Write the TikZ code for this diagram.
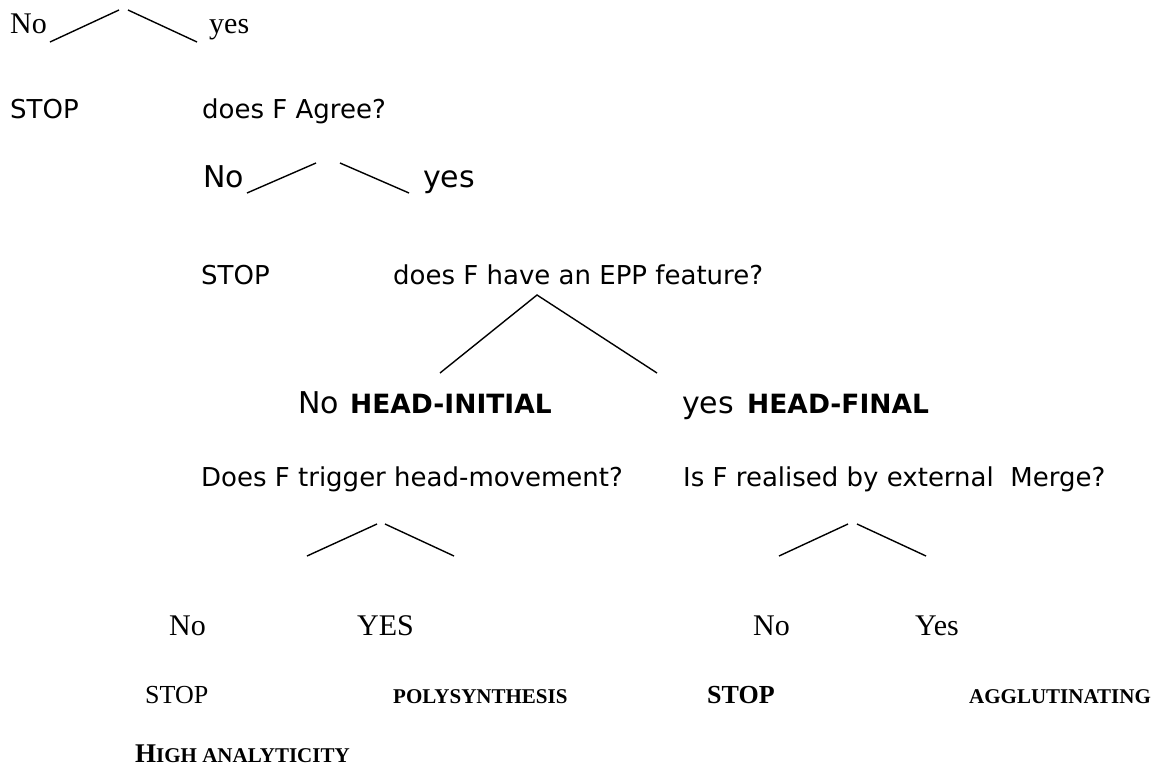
\documentclass[tikz,border=0pt]{standalone}
\usepackage{fontspec}
\setmainfont{Liberation Serif}
\newfontfamily\vsans{DejaVu Sans}
\usetikzlibrary{positioning}
\pgfdeclarelayer{edgelayer}
\pgfdeclarelayer{nodelayer}
\pgfsetlayers{edgelayer,nodelayer,main}
\tikzstyle{answer}=[anchor=base west,inner sep=0pt,font=\fontsize{30}{36}\selectfont]
\tikzstyle{halt}=[anchor=base west,inner sep=0pt,font=\fontsize{26}{31}\selectfont]
\tikzstyle{question}=[anchor=base west,inner sep=0pt,font=\vsans\fontsize{26}{31}\selectfont]
\tikzstyle{reply}=[anchor=base west,inner sep=0pt,font=\vsans\fontsize{30}{36}\selectfont]
\tikzstyle{param}=[anchor=base west,inner sep=0pt,font=\vsans\bfseries\fontsize{26.5}{32}\selectfont]
\tikzstyle{outcome}=[anchor=base west,inner sep=0pt,font=\bfseries\fontsize{21}{25}\selectfont]
\tikzstyle{branch}=[line width=1.4pt]

\begin{document}
\begin{tikzpicture}[x=1pt,y=-1pt]
	\useasboundingbox (0,0) rectangle (1161,766);
	\begin{pgfonlayer}{nodelayer}
		\node [style=answer] (No1) at (10,33) {No};
		\node [style=answer] (Yes1) at (209,33) {yes};
		\node [style=question] (Stop1) at (10,118) {STOP};
		\node [style=question] (Agree) at (202,118) {does F Agree?};
		\node [style=reply] (No2) at (203,187) {No};
		\node [style=reply] (Yes2) at (423,187) {yes};
		\node [style=question] (Stop2) at (201,284) {STOP};
		\node [style=question] (EPP) at (393,284) {does F have an EPP feature?};
		\node [style=reply] (No3) at (298,413) {No};
		\node [style=param] (Initial) at (350,413) {HEAD-INITIAL};
		\node [style=reply] (Yes3) at (682,413) {yes};
		\node [style=param] (Final) at (747,413) {HEAD-FINAL};
		\node [style=question] (HeadMove) at (201,486) {Does F trigger head-movement?};
		\node [style=question] (ExtMerge) at (683,486) {Is F realised by external\ \ Merge?};
		\node [style=answer] (No4) at (169,635) {No};
		\node [style=answer] (Yes4) at (357,635) {YES};
		\node [style=answer] (No5) at (753,635) {No};
		\node [style=answer] (Yes5) at (915,635) {Yes};
		\node [style=halt] (Stop3) at (145,703) {STOP};
		\node [style=outcome] (Poly) at (393,703) {POLYSYNTHESIS};
		\node [style=halt,font=\bfseries\fontsize{26}{31}\selectfont] (Stop4) at (707,703) {STOP};
		\node [style=outcome] (Agglu) at (969,703) {AGGLUTINATING};
		\node [style=outcome] (Analytic) at (135,762) {{\fontsize{27}{32}\selectfont H}IGH ANALYTICITY};
	\end{pgfonlayer}
	\begin{pgfonlayer}{edgelayer}
		% branch ends
		\coordinate (t1l) at (50,42);   \coordinate (t1a) at (119,10);
		\coordinate (t1b) at (128,10);  \coordinate (t1r) at (197,42);
		\coordinate (t2l) at (247,193); \coordinate (t2a) at (316,163);
		\coordinate (t2b) at (340,163); \coordinate (t2r) at (409,193);
		\coordinate (t3l) at (440,373); \coordinate (t3a) at (537,295);
		\coordinate (t3r) at (657,373);
		\coordinate (t4l) at (307,556); \coordinate (t4a) at (377,524);
		\coordinate (t4b) at (385,524); \coordinate (t4r) at (454,556);
		\coordinate (t5l) at (779,556); \coordinate (t5a) at (848,524);
		\coordinate (t5b) at (857,524); \coordinate (t5r) at (926,556);
		\draw [style=branch] (t1l) to (t1a);
		\draw [style=branch] (t1b) to (t1r);
		\draw [style=branch] (t2l) to (t2a);
		\draw [style=branch] (t2b) to (t2r);
		\draw [style=branch] (t3l) to (t3a) to (t3r);
		\draw [style=branch] (t4l) to (t4a);
		\draw [style=branch] (t4b) to (t4r);
		\draw [style=branch] (t5l) to (t5a);
		\draw [style=branch] (t5b) to (t5r);
	\end{pgfonlayer}
\end{tikzpicture}
\end{document}
